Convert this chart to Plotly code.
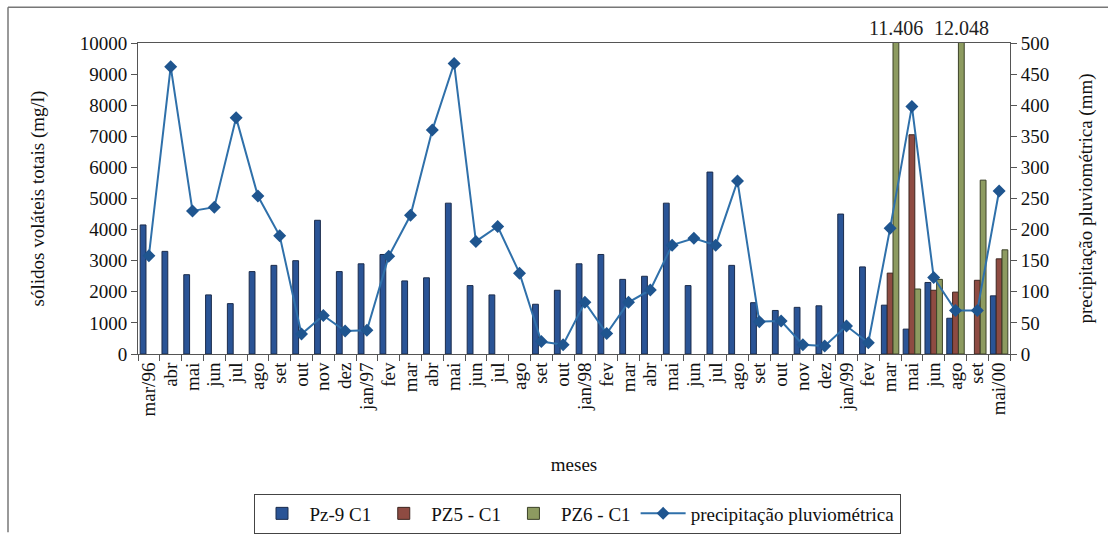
import plotly.graph_objects as go

# Sampling months (Mar/1996 - May/2000)
meses = ["mar/96", "abr", "mai", "jun", "jul", "ago", "set", "out", "nov", "dez",
         "jan/97", "fev", "mar", "abr", "mai", "jun", "jul", "ago", "set", "out",
         "jan/98", "fev", "mar", "abr", "mai", "jun", "jul", "ago", "set", "out",
         "nov", "dez", "jan/99", "fev", "mar", "mai", "jun", "ago", "set", "mai/00"]

# Total volatile solids (mg/l) per well
pz9_c1 = [4150, 3300, 2550, 1900, 1620, 2650, 2850, 3000, 4300, 2650,
          2900, 3200, 2350, 2450, 4850, 2200, 1900, None, 1600, 2050,
          2900, 3200, 2400, 2500, 4850, 2200, 5850, 2850, 1650, 1400,
          1500, 1550, 4500, 2800, 1570, 800, 2300, 1150, None, 1870]
pz5_c1 = [None] * 34 + [2600, 7050, 2050, 1990, 2370, 3060]
pz6_c1 = [None] * 34 + [11406, 2090, 2400, 12048, 5590, 3350]

# Monthly rainfall (mm)
precipitacao = [158, 462, 230, 236, 380, 254, 190, 32, 62, 37,
                38, 157, 223, 360, 467, 181, 205, 130, 20, 15,
                83, 33, 83, 103, 175, 186, 175, 278, 52, 53,
                15, 13, 45, 18, 202, 398, 123, 70, 70, 262]

# Values printed above the bars that exceed the axis
rotulos_fora = [(34, "11.406"), (37, "12.048")]

FONT = "'Liberation Serif', 'DejaVu Serif', serif"
x = list(range(len(meses)))
BARGAP = 0.2
bar_w = (1 - BARGAP) / 3

fig = go.Figure()
fig.add_trace(go.Bar(x=x, y=pz9_c1, name="Pz-9 C1",
                     marker=dict(color="#2A5496", line=dict(color="#1B2C4C", width=1))))
fig.add_trace(go.Bar(x=x, y=pz5_c1, name="PZ5 - C1",
                     marker=dict(color="#8E4B42", line=dict(color="#3E2620", width=1))))
fig.add_trace(go.Bar(x=x, y=pz6_c1, name="PZ6 - C1",
                     marker=dict(color="#8D9B60", line=dict(color="#3C4228", width=1))))
fig.add_trace(go.Scatter(x=x, y=precipitacao, name="precipitação pluviométrica",
                         yaxis="y2", mode="lines+markers",
                         line=dict(color="#2F70AA", width=2),
                         marker=dict(symbol="diamond", size=10, color="#1F558F")))

for idx, txt in rotulos_fora:
    fig.add_annotation(x=idx + bar_w, y=1, xref="x", yref="paper",
                       yanchor="bottom", showarrow=False, text=txt, yshift=2,
                       font=dict(family=FONT, size=20, color="#222"))

# Outer frame lines
L, R, T, B = 138, 98, 43, 182
W, H = 1108 - L - R, 546 - T - B
px = lambda v: (v - L) / W
py = lambda v: 1 - (v - T) / H
fig.add_shape(type="line", xref="paper", yref="paper",
              x0=px(8), x1=px(1110), y0=py(6), y1=py(6),
              line=dict(color="#777", width=1.5))
fig.add_shape(type="line", xref="paper", yref="paper",
              x0=px(8), x1=px(8), y0=py(6), y1=py(548),
              line=dict(color="#777", width=1.5))

axis_font = dict(family=FONT, size=19, color="#111")
fig.update_layout(
    width=1108, height=546,
    margin=dict(l=L, r=R, t=T, b=B),
    paper_bgcolor="white", plot_bgcolor="white",
    barmode="group", bargap=BARGAP, bargroupgap=0,
    font=dict(family=FONT, size=18, color="#111"),
    showlegend=True,
    legend=dict(orientation="h", x=px(577), xanchor="center", y=py(508), yanchor="top",
                bordercolor="#444", borderwidth=1, font=dict(family=FONT, size=19),
                itemwidth=45, tracegroupgap=0),
    xaxis=dict(range=[-0.5, len(meses) - 0.5], tickvals=x, ticktext=meses,
               tickangle=-90, tickfont=dict(family=FONT, size=19), ticks="",
               showline=True, linecolor="#555", linewidth=1, mirror=True,
               showgrid=False, zeroline=False,
               minor=dict(tick0=-0.5, dtick=1, ticks="outside", ticklen=6,
                          tickcolor="#555", showgrid=False),
               title=dict(text="meses", font=axis_font, standoff=42)),
    yaxis=dict(range=[0, 10000], dtick=1000, tickformat="d", tickfont=axis_font,
               showline=True, linecolor="#555", linewidth=1, ticks="outside",
               ticklen=6, tickcolor="#555", showgrid=False, zeroline=False,
               title=dict(text="sólidos voláteis totais (mg/l)", font=axis_font, standoff=30)),
    yaxis2=dict(range=[0, 500], dtick=50, overlaying="y", side="right",
                tickfont=axis_font, showline=True, linecolor="#555", linewidth=1,
                ticks="outside", ticklen=6, tickcolor="#555", showgrid=False,
                zeroline=False,
                title=dict(text="precipitação pluviométrica (mm)", font=axis_font, standoff=30)),
)

fig.write_html("out.html")
